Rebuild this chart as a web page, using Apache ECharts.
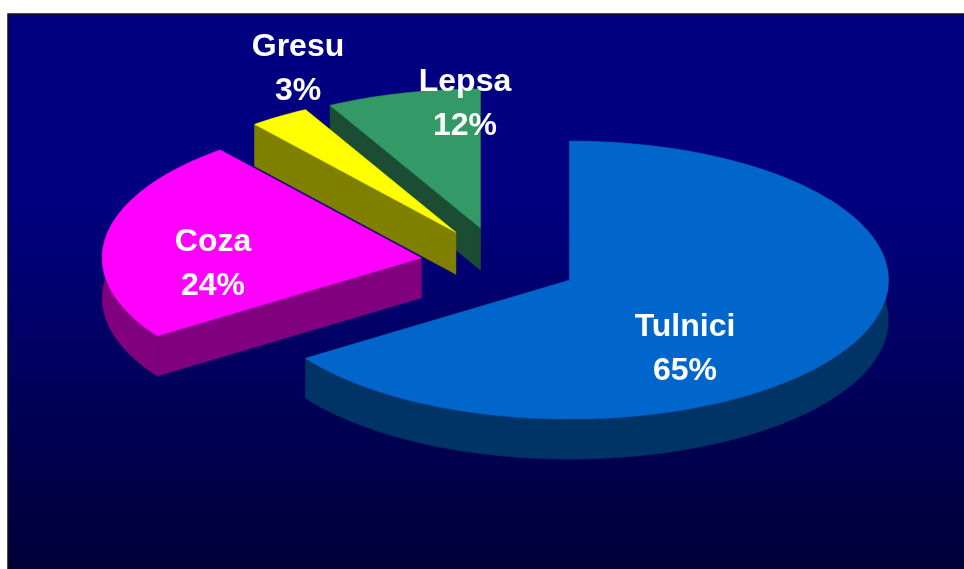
<!DOCTYPE html>
<html>
<head>
<meta charset="utf-8">
<style>html,body{margin:0;padding:0;background:#fff}#c{width:964px;height:569px}</style>
<script src="https://cdn.jsdelivr.net/npm/echarts@6/dist/echarts.min.js"></script>
</head>
<body>
<div id="c"></div>
<script>
// Data
var categories = ['Tulnici', 'Coza', 'Gresu', 'Lepsa'];
// Percentages as printed on the labels
var labelPercents = [65, 24, 3, 12];
// Share of the circle each wedge actually occupies in the picture
var wedgeShares = [65.5, 23.65, 3.05, 7.8];

// Styles and layout
var topColors = ['#0066CC', '#FF00FF', '#FFFF00', '#339966'];
var sideColors = ['#003366', '#800080', '#808000', '#1A4D33'];
var labelCenters = [[685, 349], [213, 264], [298, 69], [465, 104]];
var wedgeLift = [0, 1, 3, 2.5];
var wedgeDepth = [40, 40, 42, 42];
var CX = 499.5, CY = 264, RX = 319, RY = 139, RANGE = 1.4;
var EXPLODE = 0.248, STEP = 1.5;

var chart = echarts.init(document.getElementById('c'), null, {renderer: 'canvas'});

function renderWedge(params, api) {
  var i = params.dataIndex;
  var total = wedgeShares.reduce(function (a, b) { return a + b; }, 0);
  var before = 0;
  for (var k = 0; k < i; k++) before += wedgeShares[k];
  var a0 = before / total * 2 * Math.PI;
  var a1 = (before + api.value(2)) / total * 2 * Math.PI;
  var mid = (a0 + a1) / 2;
  var ox = EXPLODE * Math.sin(mid), oy = EXPLODE * Math.cos(mid);
  function at(r, a) {
    var p = api.coord([ox + r * Math.sin(a), oy + r * Math.cos(a)]);
    return [p[0], p[1] - wedgeLift[i]];
  }
  var apex = at(0, 0);
  var rim = [];
  var n = Math.max(2, Math.ceil((a1 - a0) * 180 / Math.PI / STEP));
  for (var j = 0; j <= n; j++) rim.push(at(1, a0 + (a1 - a0) * j / n));
  function down(p) { return [p[0], p[1] + wedgeDepth[i]]; }
  var children = [];
  var z = 10 * (categories.length - i);
  var side = {fill: sideColors[i], stroke: sideColors[i], lineWidth: 0.5};

  // Cut faces (only those that look toward the viewer are ever uncovered)
  [rim[0], rim[rim.length - 1]].forEach(function (p) {
    children.push({type: 'polygon', z2: z,
      shape: {points: [apex, p, down(p), down(apex)]}, style: side});
  });
  // Outer rim wall
  children.push({type: 'polygon', z2: z,
    shape: {points: rim.concat(rim.map(down).reverse())}, style: side});
  // Top
  children.push({type: 'polygon', z2: z + 1,
    shape: {points: [apex].concat(rim)},
    style: {fill: topColors[i], stroke: topColors[i], lineWidth: 0.5}});
  // Label
  children.push({type: 'text', z2: 200,
    x: labelCenters[i][0], y: labelCenters[i][1],
    style: {
      text: categories[i] + '\n' + labelPercents[i] + '%',
      fill: '#FFFFFF', align: 'center', verticalAlign: 'middle',
      font: 'bold 32px "Liberation Sans", Arial, sans-serif', lineHeight: 44
    }});
  return {type: 'group', children: children};
}

chart.setOption({
  animation: false,
  backgroundColor: '#FFFFFF',
  graphic: [{
    type: 'rect', z: -10, silent: true,
    shape: {x: 8, y: 14, width: 957, height: 556},
    style: {
      stroke: '#111111', lineWidth: 1.5,
      fill: new echarts.graphic.LinearGradient(0, 0, 0, 1, [
        {offset: 0, color: '#000080'},
        {offset: 0.33, color: '#000080'},
        {offset: 1, color: '#000038'}
      ])
    }
  }],
  grid: {
    left: CX - RANGE * RX, width: 2 * RANGE * RX,
    top: CY - RANGE * RY, height: 2 * RANGE * RY
  },
  xAxis: {type: 'value', min: -RANGE, max: RANGE, show: false},
  yAxis: {type: 'value', min: -RANGE, max: RANGE, show: false},
  series: [{
    type: 'custom',
    coordinateSystem: 'cartesian2d',
    clip: false,
    silent: true,
    renderItem: renderWedge,
    encode: {x: 0, y: 1},
    data: wedgeShares.map(function (s) { return [0, 0, s]; })
  }]
});
</script>
</body>
</html>
